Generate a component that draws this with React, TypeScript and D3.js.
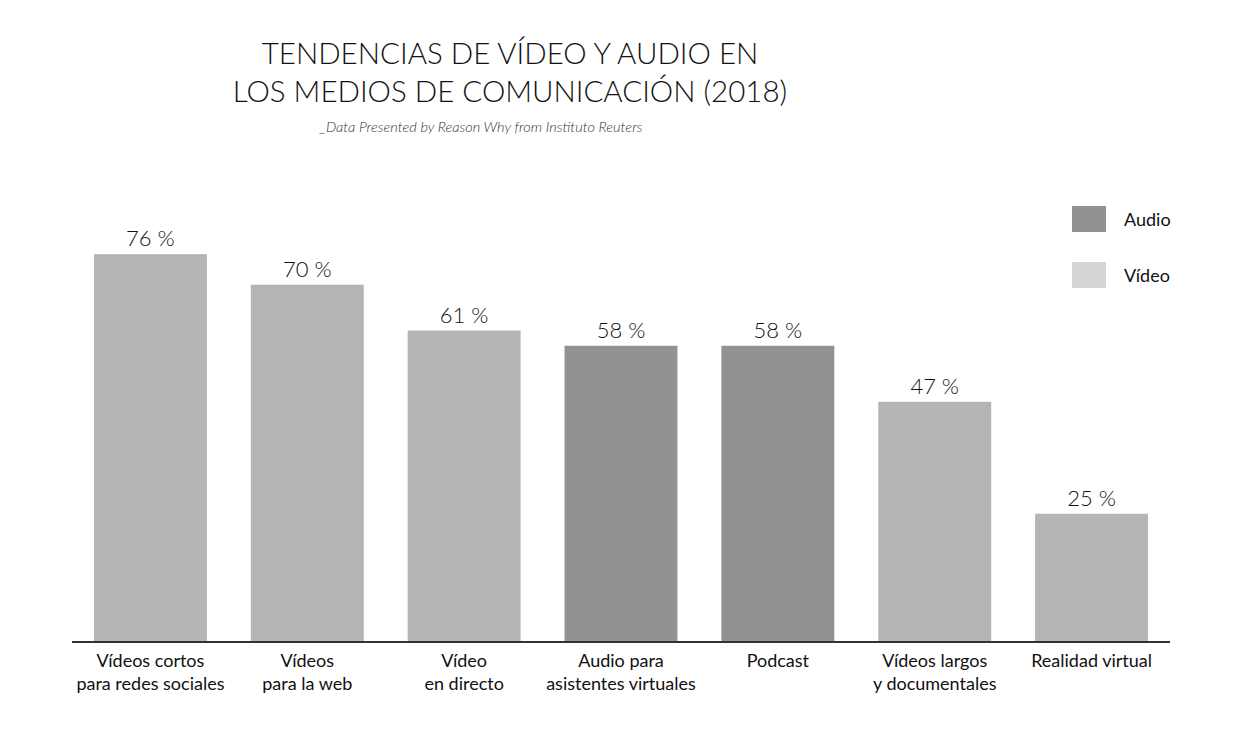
import { useEffect, useRef } from "react";
import * as d3 from "d3";

const categories = [
  ["Vídeos cortos", "para redes sociales"],
  ["Vídeos", "para la web"],
  ["Vídeo", "en directo"],
  ["Audio para", "asistentes virtuales"],
  ["Podcast"],
  ["Vídeos largos", "y documentales"],
  ["Realidad virtual"],
];
const values = [76, 70, 61, 58, 58, 47, 25];
const types = ["Vídeo", "Vídeo", "Vídeo", "Audio", "Audio", "Vídeo", "Vídeo"];
const legendItems = ["Audio", "Vídeo"];

const App = () => {
  const ref = useRef<SVGSVGElement>(null);

  useEffect(() => {
    const w = 1256;
    const h = 736;
    const svg = d3.select(ref.current).attr("width", w).attr("height", h);
    svg.selectAll("*").remove();

    const font = "Lato, 'Open Sans', sans-serif";
    const baseY = 641;

    const x = d3
      .scaleBand()
      .domain(d3.range(values.length).map(String))
      .range([72, 1170])
      .paddingInner(0.28)
      .paddingOuter(0.14);
    const y = d3.scaleLinear().domain([0, 100]).range([baseY, 132]);

    const barColor = d3.scaleOrdinal<string>().domain(legendItems).range(["#929292", "#b5b5b5"]);
    const legendColor = d3.scaleOrdinal<string>().domain(legendItems).range(["#929292", "#d4d4d4"]);

    // title
    const title = svg.append("text").attr("text-anchor", "middle").attr("font-family", font)
      .attr("font-weight", 300).attr("font-size", 29.5).attr("fill", "#111");
    title.append("tspan").attr("x", 510).attr("y", 64).text("TENDENCIAS DE VÍDEO Y AUDIO EN");
    title.append("tspan").attr("x", 510).attr("y", 102).text("LOS MEDIOS DE COMUNICACIÓN (2018)");

    svg.append("text").attr("x", 481).attr("y", 132).attr("text-anchor", "middle")
      .attr("font-family", font).attr("font-style", "italic").attr("font-weight", 300)
      .attr("font-size", 14.5).attr("fill", "#333")
      .text("_Data Presented by Reason Why from Instituto Reuters");

    const g = svg.append("g");
    g.selectAll("rect.bar")
      .data(values)
      .join("rect")
      .attr("class", "bar")
      .attr("x", (_, i) => x(String(i))!)
      .attr("y", (d) => y(d))
      .attr("width", x.bandwidth())
      .attr("height", (d) => baseY - y(d))
      .attr("fill", (_, i) => barColor(types[i]));

    g.selectAll("text.val")
      .data(values)
      .join("text")
      .attr("class", "val")
      .attr("x", (_, i) => x(String(i))! + x.bandwidth() / 2)
      .attr("y", (d) => y(d) - 8)
      .attr("text-anchor", "middle")
      .attr("font-family", font)
      .attr("font-weight", 300)
      .attr("font-size", 22)
      .attr("fill", "#111")
      .text((d) => `${d} %`);

    svg.append("line").attr("x1", 72).attr("x2", 1170).attr("y1", baseY + 1).attr("y2", baseY + 1)
      .attr("stroke", "#333").attr("stroke-width", 2);

    const labels = g.selectAll("text.cat")
      .data(categories)
      .join("text")
      .attr("class", "cat")
      .attr("text-anchor", "middle")
      .attr("font-family", font)
      .attr("font-size", 18)
      .attr("fill", "#111");
    labels.each(function (d, i) {
      const t = d3.select(this);
      d.forEach((line, j) => {
        t.append("tspan")
          .attr("x", x(String(i))! + x.bandwidth() / 2)
          .attr("y", 667 + j * 23)
          .text(line);
      });
    });

    // legend
    const leg = svg.append("g").attr("transform", "translate(1072,206)");
    legendItems.forEach((k, i) => {
      leg.append("rect").attr("x", 0).attr("y", i * 56).attr("width", 34).attr("height", 26)
        .attr("fill", legendColor(k));
      leg.append("text").attr("x", 52).attr("y", i * 56 + 20).attr("font-family", font)
        .attr("font-size", 18).attr("fill", "#111").text(k);
    });
  }, []);

  return <svg ref={ref} style={{ display: "block", position: "absolute", left: 0, top: 0 }}></svg>;
};

export default App;
